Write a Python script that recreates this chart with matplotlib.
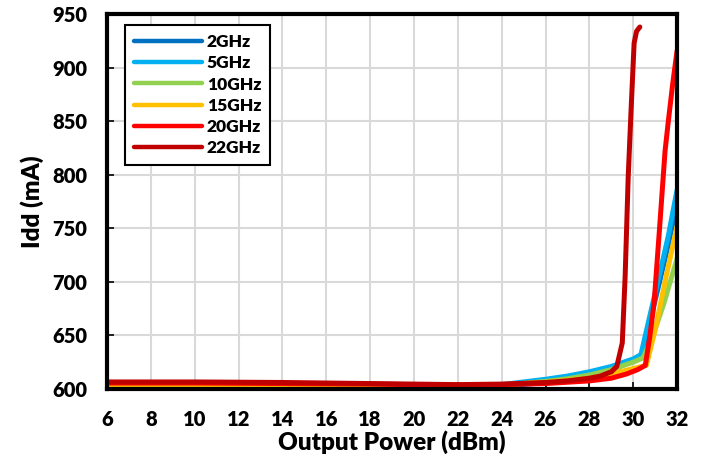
import matplotlib.pyplot as plt
from matplotlib.legend_handler import HandlerLine2D

plt.rcParams['font.family'] = ['Lato', 'DejaVu Sans']
plt.rcParams['font.weight'] = 'bold'

labels = ['2GHz', '5GHz', '10GHz', '15GHz', '20GHz', '22GHz']
colors = ['#0070C0', '#00B0F0', '#92D050', '#FFC000', '#FF0000', '#C00000']

pout_2g = [6.5, 10, 14, 18, 22, 24, 26, 27, 28, 29, 30, 30.4, 30.8, 31.2, 31.6, 32]
idd_2g = [600, 600, 600, 600, 601, 602.5, 606, 608.5, 612, 618, 626, 631, 666, 700, 735, 774]

pout_5g = [6, 10, 14, 18, 22, 24, 26, 27, 28, 29, 30, 30.35, 30.8, 31.2, 31.6, 32]
idd_5g = [601, 601, 601, 601, 602, 604, 609, 612, 616, 621, 628, 632, 672, 707, 743, 786]

pout_10g = [6, 10, 14, 18, 22, 24, 26, 27, 28, 29, 30, 30.45, 30.9, 31.4, 32]
idd_10g = [602, 602, 602, 602, 602.5, 603.5, 607, 609.5, 613, 618, 625, 629, 650, 680, 722]

pout_15g = [6, 10, 14, 18, 22, 24, 26, 27, 28, 29, 30, 30.6, 31.0, 31.5, 32]
idd_15g = [603, 603, 603, 603, 603, 604, 606, 608, 610, 614, 619, 622, 655, 705, 752]

pout_20g = [6, 10, 14, 18, 22, 24, 26, 28, 29, 29.7, 30.2, 30.55, 30.75, 30.95, 31.2,
            31.45, 31.6, 31.8, 32]
idd_20g = [605.5, 605.5, 605, 604.5, 603.5, 604, 605, 607.5, 610, 614, 618, 622, 648,
           680, 750, 822, 850, 885, 916]

pout_22g = [6, 10, 14, 18, 22, 24, 26, 27, 28, 28.5, 29, 29.25, 29.5, 29.63, 29.77,
            29.9, 30.04, 30.15, 30.3]
idd_22g = [606.5, 606.5, 606, 605, 604, 604.5, 606, 607.5, 610, 612, 616, 621, 643, 705,
           798, 860, 923, 934, 938]

series = [(pout_2g, idd_2g), (pout_5g, idd_5g), (pout_10g, idd_10g),
          (pout_15g, idd_15g), (pout_20g, idd_20g), (pout_22g, idd_22g)]


# legend line that leaves some empty room on its left side
class InsetLine(HandlerLine2D):
    def create_artists(self, legend, orig_handle, xdescent, ydescent, width, height,
                       fontsize, trans):
        arts = super().create_artists(legend, orig_handle, xdescent, ydescent, width,
                                      height, fontsize, trans)
        for a in arts:
            xd = list(a.get_xdata())
            if len(xd) == 2:
                a.set_xdata([xd[0] + 0.16 * (xd[1] - xd[0]), xd[1]])
            a.set_linewidth(3.2)
        return arts


fig = plt.figure(figsize=(7.09, 4.57), dpi=100)
ax = fig.add_axes([0.151, 0.149, 0.804, 0.82])

for (x, y), lab, c in zip(series, labels, colors):
    ax.plot(x, y, color=c, lw=3.6, label=lab, solid_capstyle='round',
            solid_joinstyle='round')

ax.set_xlim(6, 32)
ax.set_ylim(600, 950)
ax.set_xticks(range(6, 33, 2))
ax.set_yticks(range(600, 951, 50))
ax.grid(True, color='#D9D9D9', lw=1.5)
ax.set_axisbelow(True)

for sp in ax.spines.values():
    sp.set_linewidth(3)
    sp.set_color('black')

ax.tick_params(axis='both', direction='in', length=5, width=1.2, labelsize=14.5)
ax.tick_params(axis='x', pad=15)
ax.tick_params(axis='y', pad=14)
for t in ax.get_xticklabels() + ax.get_yticklabels():
    t.set_fontweight('heavy')

ax.set_xlabel('Output Power (dBm)', fontsize=17.5, fontweight='heavy', labelpad=1)
ax.set_ylabel('Idd (mA)', fontsize=17.5, fontweight='heavy', labelpad=6)

leg = ax.legend(loc='upper left', bbox_to_anchor=(0.032, 0.97), borderaxespad=0,
                handlelength=3.9, handletextpad=0.3, labelspacing=0.3,
                borderpad=0.5, fancybox=False, framealpha=1,
                prop={'weight': 'heavy', 'size': 12.5},
                handler_map={plt.Line2D: InsetLine()})
leg.get_frame().set_edgecolor('black')
leg.get_frame().set_linewidth(1.5)

fig.savefig('out.png', dpi=100)
